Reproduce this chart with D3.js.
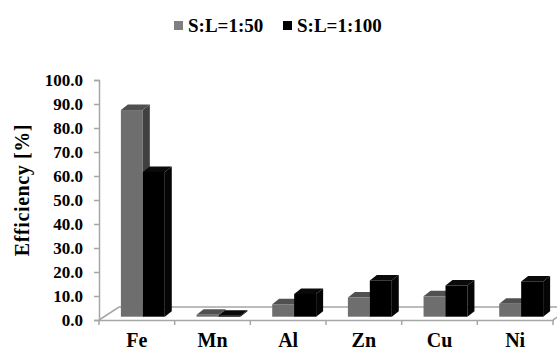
<!DOCTYPE html>
<html>
<head>
<meta charset="utf-8">
<script src="https://cdn.jsdelivr.net/npm/d3@7"></script>
<style>
  body { margin: 0; background: #fff; }
</style>
</head>
<body>
<div id="chart"></div>
<script>
// data
const categories = ["Fe", "Mn", "Al", "Zn", "Cu", "Ni"];
const seriesNames = ["S:L=1:50", "S:L=1:100"];
const ratio50 = [86.1, 0.8, 5.2, 8.0, 8.5, 5.4];
const ratio100 = [60.3, 0.4, 9.5, 15.1, 13.0, 14.7];
const yTicks = [0, 10, 20, 30, 40, 50, 60, 70, 80, 90, 100];

const width = 557;
const height = 350;
const fontFamily = "'Liberation Serif', 'Times New Roman', Times, serif";

const svg = d3.select("#chart")
  .append("svg")
  .attr("width", width)
  .attr("height", height)
  .attr("font-family", fontFamily)
  .attr("font-weight", "bold");

// front plane of the chart
const x = d3.scaleBand().domain(categories).range([99, 553]);
const y = d3.scaleLinear().domain([0, 100]).range([320, 80]);

// 3d offsets
const floorDepth = [20, -13];
const barShift = [5, -3.3];
const barDepth = [7, -5.5];

const groupW = x.bandwidth() * 0.58;
const x1 = d3.scaleBand().domain(seriesNames)
  .range([(x.bandwidth() - groupW) / 2 + 1, (x.bandwidth() + groupW) / 2 + 1]);

const faces = {
  "S:L=1:50": { front: "#6e6e6e", top: "#505050", side: "#404040" },
  "S:L=1:100": { front: "#000000", top: "#0a0a0a", side: "#050505" }
};

const lineColor = "#a6a6a6";
const axisG = svg.append("g");

// floor
const x0 = x.range()[0], xEnd = x.range()[1];
axisG.append("path")
  .attr("d", `M${x0},${y(0)} L${x0 + floorDepth[0]},${y(0) + floorDepth[1]} L${xEnd + floorDepth[0] + 10},${y(0) + floorDepth[1]}`)
  .attr("fill", "none").attr("stroke", lineColor).attr("stroke-width", 1.5);
axisG.append("path")
  .attr("d", `M${xEnd},${y(0)} L${xEnd + floorDepth[0]},${y(0) + floorDepth[1]}`)
  .attr("fill", "none").attr("stroke", lineColor).attr("stroke-width", 1.5);

// y axis
const yAxis = axisG.append("g")
  .attr("transform", `translate(${x0},0)`)
  .call(d3.axisLeft(y).tickValues(yTicks).tickFormat(d3.format(".1f")).tickSize(5).tickPadding(11))
  .attr("font-family", fontFamily);
yAxis.select(".domain").attr("stroke", lineColor).attr("stroke-width", 1.5);
yAxis.selectAll(".tick line").attr("stroke", lineColor).attr("stroke-width", 1.5);
yAxis.selectAll(".tick text")
  .style("font-weight", "bold")
  .style("font-size", "17px");

// x axis
const xAxis = axisG.append("g")
  .attr("transform", `translate(0,${y(0)})`)
  .call(d3.axisBottom(x).tickSize(0).tickPadding(13))
  .attr("font-family", fontFamily);
xAxis.select(".domain").attr("stroke", lineColor).attr("stroke-width", 1.5);
xAxis.selectAll(".tick text")
  .style("font-weight", "bold")
  .style("font-size", "20px");
// category ticks at band edges
xAxis.selectAll(".edge")
  .data(categories.concat(["end"]))
  .join("line")
  .attr("x1", (d, i) => x0 + i * x.step())
  .attr("x2", (d, i) => x0 + i * x.step())
  .attr("y1", 0).attr("y2", 5)
  .attr("stroke", lineColor).attr("stroke-width", 1.5);

// bars
const bars = [];
categories.forEach((c, i) => {
  bars.push({ cat: c, series: seriesNames[0], value: ratio50[i] });
  bars.push({ cat: c, series: seriesNames[1], value: ratio100[i] });
});

const barG = svg.append("g");
const bw = x1.bandwidth();
bars.forEach(d => {
  const left = x(d.cat) + x1(d.series) + barShift[0];
  const right = left + bw;
  const bottom = y(0) + barShift[1];
  const top = y(d.value) + barShift[1];
  const [dx, dy] = barDepth;
  const col = faces[d.series];
  const g = barG.append("g");
  g.append("path")
    .attr("d", `M${right},${bottom} L${right + dx},${bottom + dy} L${right + dx},${top + dy} L${right},${top} Z`)
    .attr("fill", col.side);
  g.append("path")
    .attr("d", `M${left},${top} L${left + dx},${top + dy} L${right + dx},${top + dy} L${right},${top} Z`)
    .attr("fill", col.top);
  g.append("rect")
    .attr("x", left).attr("y", top)
    .attr("width", bw).attr("height", bottom - top)
    .attr("fill", col.front);
});

// y axis title
svg.append("text")
  .attr("transform", "translate(29,190) rotate(-90)")
  .attr("text-anchor", "middle")
  .style("font-size", "20px")
  .style("letter-spacing", "0.6px")
  .text("Efficiency [%]");

// legend
const legendColors = ["#7f7f7f", "#000000"];
const legendX = [174, 283];
const legend = svg.append("g");
seriesNames.forEach((s, i) => {
  legend.append("rect")
    .attr("x", legendX[i]).attr("y", 21)
    .attr("width", 9).attr("height", 9)
    .attr("fill", legendColors[i]);
  legend.append("text")
    .attr("x", legendX[i] + 14).attr("y", 32)
    .style("font-size", "19px")
    .text(s);
});
</script>
</body>
</html>
